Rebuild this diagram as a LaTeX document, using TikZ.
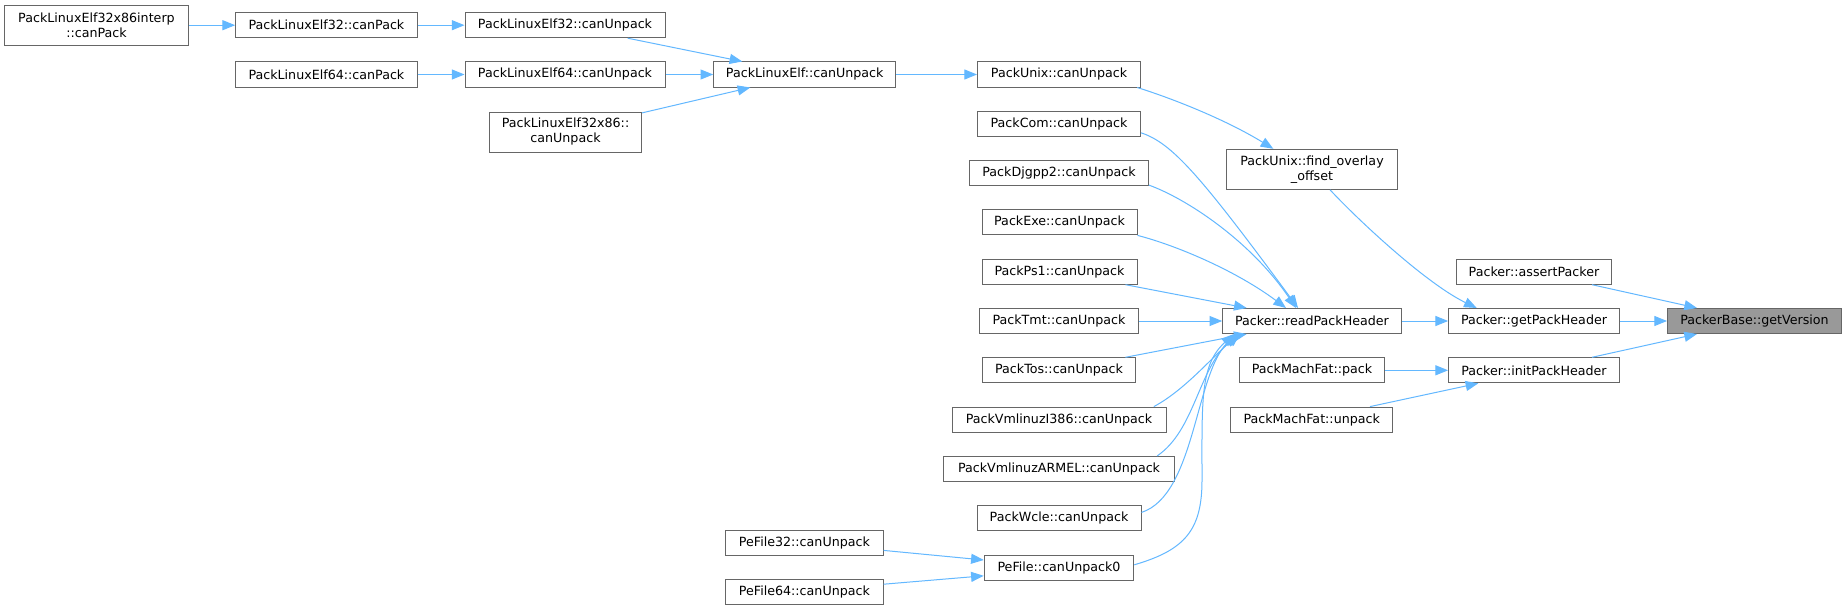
\documentclass[tikz,border=0pt]{standalone}
\usepackage{fontspec}
\setmainfont{DejaVu Sans}
\usetikzlibrary{arrows.meta,calc}
\definecolor{nodeborder}{HTML}{666666}
\definecolor{nodehi}{HTML}{999999}
\definecolor{edgeblue}{HTML}{63B8FF}
\begin{document}
\begin{tikzpicture}[x=0.75pt,y=-0.75pt,
  fn/.style={draw=nodeborder, fill=white, line width=0.75pt, inner sep=0pt,
    minimum height=18.75pt, align=center,
    font=\fontsize{9.5pt}{11.25pt}\selectfont, text=black},
  two/.style={minimum height=30pt},
  bw/.style={minimum width=#1*0.75pt},
  hi/.style={fill=nodehi},
  e/.style={draw=edgeblue, line width=0.75pt, -{Triangle[length=9.5pt,width=7.5pt]}}
]
\fill[white] (0,0) rectangle (1847,610);
\useasboundingbox (0,0) rectangle (1847,610);

% left columns
\node[fn,bw=183.5,two] (interp) at (96.5,25.2) {PackLinuxElf32x86interp\\::canPack};
\node[fn,bw=181.5] (e32p) at (326.4,25.2) {PackLinuxElf32::canPack};
\node[fn,bw=200] (e32u) at (565,25.2) {PackLinuxElf32::canUnpack};
\node[fn,bw=181.5] (e64p) at (326.4,74.5) {PackLinuxElf64::canPack};
\node[fn,bw=200] (e64u) at (565,74.5) {PackLinuxElf64::canUnpack};
\node[fn,bw=152,two] (e3286) at (565.5,132) {PackLinuxElf32x86::\\canUnpack};
\node[fn,bw=182] (elf) at (804.7,74.5) {PackLinuxElf::canUnpack};
\node[fn,bw=157.4] (pe32) at (804.4,542.9) {PeFile32::canUnpack};
\node[fn,bw=157.4] (pe64) at (804.4,592.2) {PeFile64::canUnpack};

% middle column
\node[fn,bw=163] (unix) at (1059,74.5) {PackUnix::canUnpack};
\node[fn,bw=163] (com) at (1059,123.8) {PackCom::canUnpack};
\node[fn,bw=178.7] (djg) at (1059,173.1) {PackDjgpp2::canUnpack};
\node[fn,bw=155] (exe) at (1059.5,222.4) {PackExe::canUnpack};
\node[fn,bw=155] (ps1) at (1059.5,271.7) {PackPs1::canUnpack};
\node[fn,bw=158.5] (tmt) at (1059,321) {PackTmt::canUnpack};
\node[fn,bw=153.4] (tos) at (1059,370.3) {PackTos::canUnpack};
\node[fn,bw=214] (i386) at (1059,419.6) {PackVmlinuzI386::canUnpack};
\node[fn,bw=231] (armel) at (1059,468.9) {PackVmlinuzARMEL::canUnpack};
\node[fn,bw=164] (wcle) at (1059,518.2) {PackWcle::canUnpack};
\node[fn,bw=149.5] (pef0) at (1059,567.5) {PeFile::canUnpack0};

% right columns
\node[fn,bw=170.6,two] (find) at (1312,169.3) {PackUnix::find\_overlay\\\_offset};
\node[fn,bw=178.6] (rph) at (1312,321) {Packer::readPackHeader};
\node[fn,bw=145.5] (mfp) at (1312,370.3) {PackMachFat::pack};
\node[fn,bw=162] (mfu) at (1311.7,419.6) {PackMachFat::unpack};
\node[fn,bw=155] (assert) at (1534,271.7) {Packer::assertPacker};
\node[fn,bw=170.8] (gph) at (1534,321) {Packer::getPackHeader};
\node[fn,bw=170.8] (iph) at (1534,370.3) {Packer::initPackHeader};
\node[fn,bw=174,hi] (ver) at (1754.5,321) {PackerBase::getVersion};

% straight edges
\draw[e] (interp.east) -- (e32p.west);
\draw[e] (e32p.east) -- (e32u.west);
\draw[e] (e64p.east) -- (e64u.west);
\draw[e] (e64u.east) -- (elf.west);
\draw[e] (elf.east) -- (unix.west);
\draw[e] (tmt.east) -- (rph.west);
\draw[e] (rph.east) -- (gph.west);
\draw[e] (gph.east) -- (ver.west);
\draw[e] (mfp.east) -- (iph.west);

% diagonal edges
\draw[e] ($(e32u.south)+(62.7,0)$) -- ($(elf.north)+(-62.4,0)$);
\draw[e] ($(e3286.north east)+(0,1.4)$) -- ($(elf.south)+(-54.4,0)$);
\draw[e] ($(pe32.east)+(0,7.5)$) -- ($(pef0.west)+(0,-7.5)$);
\draw[e] ($(pe64.east)+(0,-8)$) -- ($(pef0.west)+(0,8.3)$);
\draw[e] ($(ps1.south east)+(-12,0)$) -- ($(rph.north)+(-65.3,0)$);
\draw[e] ($(tos.north east)+(-10.8,0)$) -- ($(rph.south)+(-65.3,0)$);
\draw[e] ($(assert.south)+(58,0)$) -- ($(ver.north)+(-57.5,0)$);
\draw[e] ($(iph.north)+(58,0)$) -- ($(ver.south)+(-57.5,0)$);
\draw[e] ($(mfu.north)+(58.3,0)$) -- ($(iph.south)+(-55.7,0)$);

% curved edges
\draw[e] ($(unix.south east)+(-3.8,0)$) .. controls (1177,100) and (1228,121) .. ($(find.north)+(-38.7,0)$);
\draw[e] ($(find.south)+(18,0)$) .. controls (1360,222) and (1427,284) .. ($(gph.north)+(-57.3,0)$);
\draw[e] ($(com.east)+(0,9)$) .. controls (1172,143) and (1200,175) .. ($(rph.north)+(-14,0)$);
\draw[e] ($(djg.south east)+(0,-1)$) .. controls (1185,198) and (1250,240) .. ($(rph.north)+(-16,0)$);
\draw[e] (exe.south east) .. controls (1175,245) and (1235,270) .. ($(rph.north)+(-26,0)$);
\draw[e] ($(i386.north east)+(-12.7,0)$) .. controls (1185,390) and (1213,356) .. ($(rph.south)+(-72,0)$);
\draw[e] ($(armel.north east)+(-17.8,0)$) .. controls (1195,430) and (1198,370) .. ($(rph.south)+(-74,0)$);
\draw[e] ($(wcle.east)+(0,-5.8)$) .. controls (1195,495) and (1195,375) .. ($(rph.south)+(-76,0)$);
\draw[e] ($(pef0.east)+(0,-2.7)$) .. controls (1185,550) and (1202,530) .. (1202,480)
  .. controls (1202,400) and (1200,365) .. ($(rph.south)+(-78,0)$);
\end{tikzpicture}
\end{document}
